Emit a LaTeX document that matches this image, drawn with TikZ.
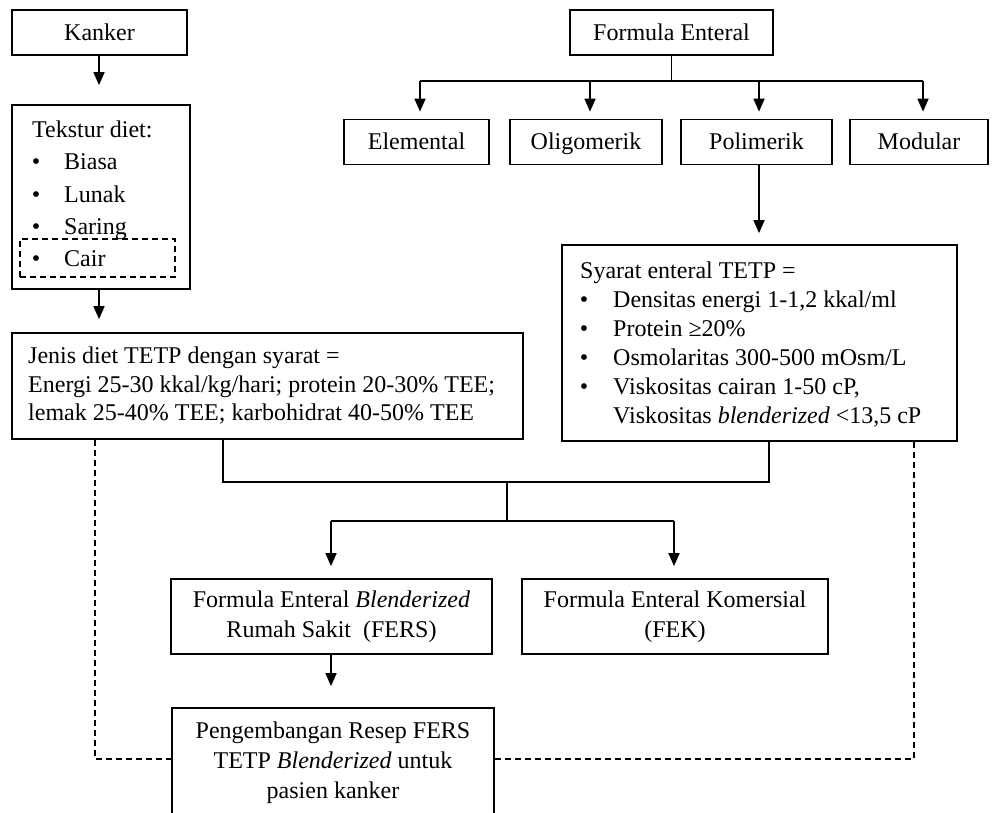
\documentclass[tikz,border=0pt]{standalone}
\usepackage{fontspec}
\setmainfont{Liberation Serif}
\usetikzlibrary{arrows.meta,calc}
\begin{document}
\begin{tikzpicture}[x=1pt,y=-1pt,
  box/.style={draw, line width=1.7pt, inner sep=0pt},
  txt/.style={font=\fontsize{24}{30}\selectfont, inner sep=0pt},
  one/.style={text height=16pt, text depth=0pt},
  arr/.style={line width=1.7pt, -{Triangle[length=13pt,width=11pt]}},
  ln/.style={line width=1.7pt},
  dsh/.style={line width=1.5pt, dash pattern=on 6pt off 4pt}]
\useasboundingbox (0,0) rectangle (995,813);
\clip (0,0) rectangle (995,813);

% ---- left column ----
\node[box, txt, one, minimum width=175pt, minimum height=45pt] (kanker) at (99.5,32.5) {Kanker};
\node[box, minimum width=178pt, minimum height=184pt] (tekstur) at (101,197) {};
\node[txt, anchor=base west] (tek0) at (32,138) {Tekstur diet:};
\node[txt, anchor=base] (tb1) at (36,170) {•};
\node[txt, anchor=base west] (tt1) at (64,170) {Biasa};
\node[txt, anchor=base] (tb2) at (36,202) {•};
\node[txt, anchor=base west] (tt2) at (64,202) {Lunak};
\node[txt, anchor=base] (tb3) at (36,234) {•};
\node[txt, anchor=base west] (tt3) at (64,234) {Saring};
\node[draw, dsh, minimum width=155pt, minimum height=38pt, inner sep=0pt] (cairbox) at (97.5,258) {};
\node[txt, anchor=base] (tb4) at (36,266) {•};
\node[txt, anchor=base west] (tt4) at (64,266) {Cair};

\node[box, minimum width=511pt, minimum height=106pt] (jenis) at (267.5,386) {};
\node[txt, font=\fontsize{24}{28.5}\selectfont, anchor=west, align=left] (jenistxt) at (28,386)
  {Jenis diet TETP dengan syarat =\\Energi 25-30 kkal/kg/hari; protein 20-30\% TEE;\\lemak 25-40\% TEE; karbohidrat 40-50\% TEE};

% ---- right column ----
\node[box, txt, one, minimum width=203pt, minimum height=45pt] (fe) at (671.5,32.5) {Formula Enteral};
\node[box, txt, one, minimum width=145pt, minimum height=45pt] (elemental) at (416.5,142) {Elemental};
\node[box, txt, one, minimum width=152pt, minimum height=45pt] (oligomerik) at (586,142) {Oligomerik};
\node[box, txt, one, minimum width=151pt, minimum height=45pt] (polimerik) at (756.5,142) {Polimerik};
\node[box, txt, one, minimum width=138pt, minimum height=45pt] (modular) at (919,142) {Modular};

\node[box, minimum width=395pt, minimum height=196pt] (syarat) at (759.5,343) {};
\node[txt, anchor=base west] (sy0) at (580,278) {Syarat enteral TETP =};
\node[txt, anchor=base] (sb1) at (584,307) {•};
\node[txt, anchor=base west] (st1) at (613,307) {Densitas energi 1-1,2 kkal/ml};
\node[txt, anchor=base] (sb2) at (584,336) {•};
\node[txt, anchor=base west] (st2) at (613,336) {Protein ≥20\%};
\node[txt, anchor=base] (sb3) at (584,365) {•};
\node[txt, anchor=base west] (st3) at (613,365) {Osmolaritas 300-500 mOsm/L};
\node[txt, anchor=base] (sb4) at (584,394) {•};
\node[txt, anchor=base west] (st4) at (613,394) {Viskositas cairan 1-50 cP,};
\node[txt, anchor=base west] (st5) at (613,423) {Viskositas \textit{blenderized} <13,5 cP};

% ---- bottom ----
\node[box, txt, minimum width=321pt, minimum height=75pt, align=center] (fers) at (331.5,616.5)
  {Formula Enteral \textit{Blenderized}\\Rumah Sakit~~(FERS)};
\node[box, txt, minimum width=306pt, minimum height=75pt, align=center] (fek) at (675,616.5)
  {Formula Enteral Komersial\\(FEK)};
\node[box, txt, minimum width=322pt, minimum height=110pt, align=center] (peng) at (333,763)
  {Pengembangan Resep FERS\\TETP \textit{Blenderized} untuk\\pasien kanker};

% ---- connectors ----
\coordinate (kx) at (99,0);
\draw[arr, shorten >=19pt] (kx |- kanker.south) -- (kx |- tekstur.north);
\draw[arr, shorten >=13pt] (kx |- tekstur.south) -- (kx |- jenis.north);

\coordinate (c1) at (420,81);
\coordinate (c2) at (590,81);
\coordinate (c3) at (759,81);
\coordinate (c4) at (923,81);
\draw[ln] (fe.south) -- (fe.south |- c1);
\draw[ln] (c1) -- (c4);
\draw[arr, shorten >=7pt] (c1) -- (c1 |- elemental.north);
\draw[arr, shorten >=7pt] (c2) -- (c2 |- oligomerik.north);
\draw[arr, shorten >=7pt] (c3) -- (c3 |- polimerik.north);
\draw[arr, shorten >=7pt] (c4) -- (c4 |- modular.north);
\draw[arr, shorten >=11pt] (c3 |- polimerik.south) -- (c3 |- syarat.north);

\coordinate (j1) at (223,482);
\coordinate (j2) at (769,482);
\coordinate (jm) at (507,482);
\coordinate (jm2) at (507,521);
\coordinate (s1) at (331,521);
\coordinate (s2) at (674,521);
\draw[ln] (j1 |- jenis.south) -- (j1) -- (j2) -- (j2 |- syarat.south);
\draw[ln] (jm) -- (jm2);
\draw[ln] (s1) -- (s2);
\draw[arr, shorten >=12pt] (s1) -- (s1 |- fers.north);
\draw[arr, shorten >=12pt] (s2) -- (s2 |- fek.north);
\draw[arr, shorten >=21pt] (s1 |- fers.south) -- (s1 |- peng.north);

\coordinate (d1) at (95,759);
\coordinate (d2) at (914,759);
\draw[dsh] (d1 |- jenis.south) -- (d1) -- (d1 -| peng.west);
\draw[dsh] (d2 |- syarat.south) -- (d2) -- (d2 -| peng.east);
\end{tikzpicture}
\end{document}
